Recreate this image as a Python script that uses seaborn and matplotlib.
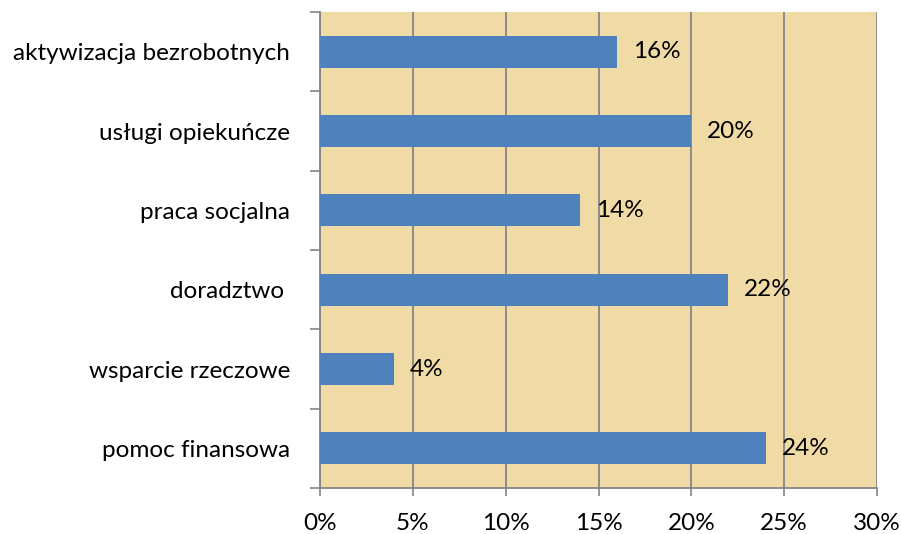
import matplotlib
matplotlib.use("Agg")
import matplotlib.pyplot as plt
import seaborn as sns
import pandas as pd
from matplotlib.ticker import PercentFormatter, FixedLocator

# data
categories = ["aktywizacja bezrobotnych", "usługi opiekuńcze", "praca socjalna",
              "doradztwo ", "wsparcie rzeczowe", "pomoc finansowa"]
shares = [16, 20, 14, 22, 4, 24]
x_ticks = [0, 5, 10, 15, 20, 25, 30]

df = pd.DataFrame({"kategoria": categories, "udzial": shares})

sns.set_style("white")
plt.rcParams["font.family"] = ["Lato", "DejaVu Sans"]

fig = plt.figure(figsize=(9.02, 5.34), dpi=100)
ax = fig.add_axes([0.3548, 0.0861, 0.6175, 0.8914])
ax.set_facecolor("#F0DBA6")

sns.barplot(data=df, x="udzial", y="kategoria", order=categories,
            color="#4F81BD", saturation=1, width=0.4, linewidth=0, ax=ax, zorder=3)

# value labels next to each bar
for i, v in enumerate(shares):
    ax.text(v + 0.85, i, f"{v}%", va="center", ha="left", fontsize=17.5, color="black", zorder=4)

ax.set_xlim(0, 30)
ax.set_ylim(len(categories) - 0.5, -0.5)
ax.xaxis.set_major_locator(FixedLocator(x_ticks))
ax.xaxis.set_major_formatter(PercentFormatter(decimals=0))
ax.grid(axis="x", color="#858585", linewidth=1.3, zorder=1)
ax.set_axisbelow(True)

# y tick marks at category boundaries, labels at centres
ax.set_yticks([i - 0.5 for i in range(len(categories) + 1)], minor=False)
ax.set_yticklabels([])
ax.set_yticks(range(len(categories)), minor=True)
ax.set_yticklabels(categories, minor=True)
ax.tick_params(axis="y", which="major", length=7, width=1.2, color="#858585", left=True)
ax.tick_params(axis="y", which="minor", length=0, pad=21.5, labelsize=17.5, labelcolor="black")
ax.tick_params(axis="x", length=6, width=1.2, color="#858585", bottom=True,
               labelsize=17.5, pad=12, labelcolor="black")

for side in ["top", "right"]:
    ax.spines[side].set_visible(False)
for side in ["left", "bottom"]:
    ax.spines[side].set_color("#858585")
    ax.spines[side].set_linewidth(1.3)

ax.set_xlabel("")
ax.set_ylabel("")

fig.savefig("out.png", dpi=100, facecolor="white")
